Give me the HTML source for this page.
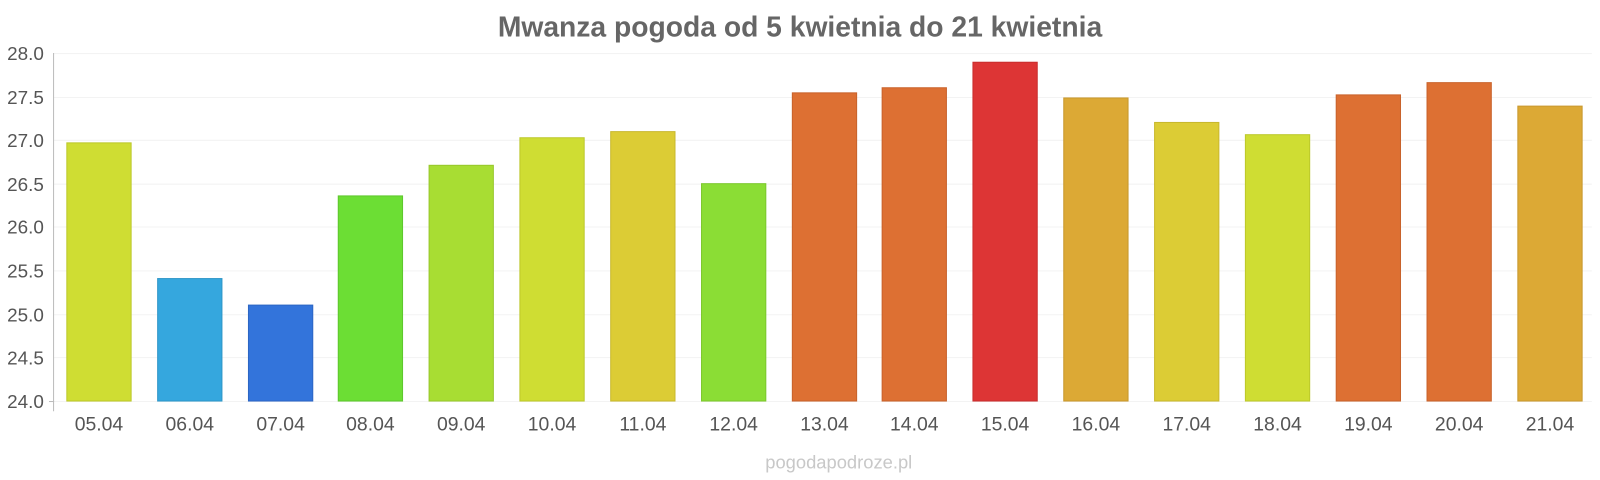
<!DOCTYPE html>
<html><head><meta charset="utf-8"><style>
html,body{margin:0;padding:0;background:#fff;}
svg{display:block;font-family:"Liberation Sans",sans-serif;}
</style></head><body>
<svg width="1600" height="480" xmlns="http://www.w3.org/2000/svg">
<g transform="scale(1.0204)">
<text x="784" y="36" text-anchor="middle" font-size="27.7" font-weight="bold" fill="#666">Mwanza pogoda od 5 kwietnia do 21 kwietnia</text>
<g stroke="#f3f3f3" stroke-width="1">
<line x1="53" x2="1560" y1="52.5" y2="52.5"/>
<line x1="53" x2="1560" y1="95.5" y2="95.5"/>
<line x1="53" x2="1560" y1="137.5" y2="137.5"/>
<line x1="53" x2="1560" y1="180.5" y2="180.5"/>
<line x1="53" x2="1560" y1="222.5" y2="222.5"/>
<line x1="53" x2="1560" y1="265.5" y2="265.5"/>
<line x1="53" x2="1560" y1="308.5" y2="308.5"/>
<line x1="53" x2="1560" y1="350.5" y2="350.5"/>
<line x1="53" x2="1560" y1="393.5" y2="393.5"/>
</g>
<line x1="52.5" x2="52.5" y1="52" y2="403" stroke="#bbb"/>
<line x1="48" x2="53" y1="393.5" y2="393.5" stroke="#bbb"/>
<g font-size="18.5" fill="#555" text-anchor="end">
<text x="43" y="59">28.0</text>
<text x="43" y="102">27.5</text>
<text x="43" y="144">27.0</text>
<text x="43" y="187">26.5</text>
<text x="43" y="229">26.0</text>
<text x="43" y="272">25.5</text>
<text x="43" y="315">25.0</text>
<text x="43" y="357">24.5</text>
<text x="43" y="400">24.0</text>
</g>
<g stroke-width="1">
<rect x="65.5" y="140" width="63" height="253" fill="#cfdd33" stroke="#bcc82a"/>
<rect x="154.5" y="273" width="63" height="120" fill="#35a7de" stroke="#2e96c8"/>
<rect x="243.5" y="299" width="63" height="94" fill="#3374db" stroke="#2c66c4"/>
<rect x="331.5" y="192" width="63" height="201" fill="#6cde34" stroke="#5ec72d"/>
<rect x="420.5" y="162" width="63" height="231" fill="#a8dd33" stroke="#97c72c"/>
<rect x="509.5" y="135" width="63" height="258" fill="#cfdd33" stroke="#bcc82a"/>
<rect x="598.5" y="129" width="63" height="264" fill="#dccc35" stroke="#c8b82d"/>
<rect x="687.5" y="180" width="63" height="213" fill="#8bdd35" stroke="#7cc72d"/>
<rect x="776.5" y="91" width="63" height="302" fill="#dd7033" stroke="#c8622b"/>
<rect x="864.5" y="86" width="63" height="307" fill="#dd7033" stroke="#c8622b"/>
<rect x="953.5" y="61" width="63" height="332" fill="#dd3535" stroke="#c82d2d"/>
<rect x="1042.5" y="96" width="63" height="297" fill="#dca935" stroke="#c8982d"/>
<rect x="1131.5" y="120" width="63" height="273" fill="#dccc35" stroke="#c8b82d"/>
<rect x="1220.5" y="132" width="63" height="261" fill="#cfdd33" stroke="#bcc82a"/>
<rect x="1309.5" y="93" width="63" height="300" fill="#dd7033" stroke="#c8622b"/>
<rect x="1398.5" y="81" width="63" height="312" fill="#dd7033" stroke="#c8622b"/>
<rect x="1487.5" y="104" width="63" height="289" fill="#dca935" stroke="#c8982d"/>
</g>
<g font-size="19" fill="#555" text-anchor="middle">
<text x="97" y="422">05.04</text>
<text x="186" y="422">06.04</text>
<text x="275" y="422">07.04</text>
<text x="363" y="422">08.04</text>
<text x="452" y="422">09.04</text>
<text x="541" y="422">10.04</text>
<text x="630" y="422">11.04</text>
<text x="719" y="422">12.04</text>
<text x="808" y="422">13.04</text>
<text x="896" y="422">14.04</text>
<text x="985" y="422">15.04</text>
<text x="1074" y="422">16.04</text>
<text x="1163" y="422">17.04</text>
<text x="1252" y="422">18.04</text>
<text x="1341" y="422">19.04</text>
<text x="1430" y="422">20.04</text>
<text x="1519" y="422">21.04</text>
</g>
<text x="822" y="459" text-anchor="middle" font-size="18" fill="#c8c8c8">pogodapodroze.pl</text>
</g>
</svg>
</body></html>
